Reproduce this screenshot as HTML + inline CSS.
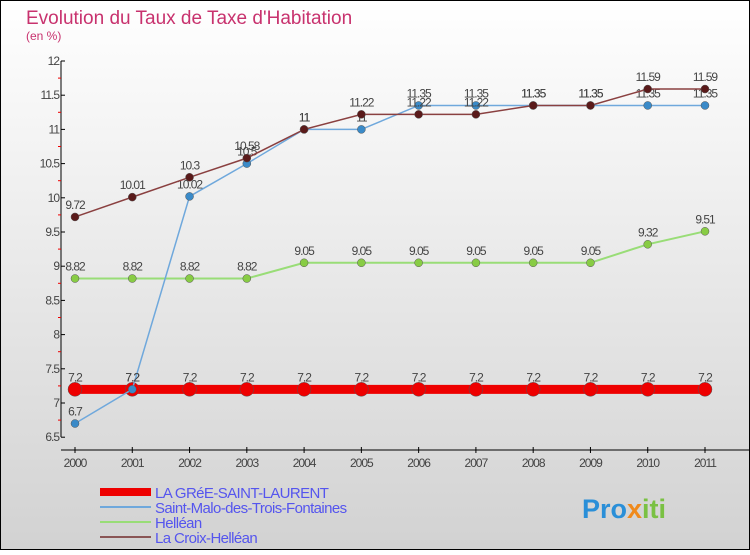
<!DOCTYPE html>
<html><head><meta charset="utf-8"><style>
body{margin:0}
#c{width:750px;height:550px;position:relative;font-family:"Liberation Sans",sans-serif}
</style></head><body>
<div id="c">
<svg id="s" width="750" height="550" xmlns="http://www.w3.org/2000/svg">
<defs><linearGradient id="bg" x1="0" y1="0" x2="0" y2="1"><stop offset="0" stop-color="#ffffff"/><stop offset="1" stop-color="#d2d2d2"/></linearGradient></defs>
<rect x="0.5" y="0.5" width="749" height="549" fill="url(#bg)" stroke="#000"/>
<text x="26" y="24" font-size="19" fill="#c8326e">Evolution du Taux de Taxe d'Habitation</text>
<text x="26" y="40" font-size="12" fill="#c8326e">(en %)</text>
<g id="axes"></g><g id="marks"></g><g id="legend"></g>
<text x="582" y="518" font-size="27" font-weight="bold" fill="#2a8fd8">Pro<tspan fill="#f08a1c">x</tspan><tspan fill="#7ac143">iti</tspan></text>
</svg></div>
<script>
const years=["2000","2001","2002","2003","2004","2005","2006","2007","2008","2009","2010","2011"];
const yTicks=[6.5,7,7.5,8,8.5,9,9.5,10,10.5,11,11.5,12];
const laGree=[7.2,7.2,7.2,7.2,7.2,7.2,7.2,7.2,7.2,7.2,7.2,7.2];
const saintMalo=[6.7,7.2,10.02,10.5,11,11,11.35,11.35,11.35,11.35,11.35,11.35];
const helleann=[8.82,8.82,8.82,8.82,9.05,9.05,9.05,9.05,9.05,9.05,9.32,9.51];
const croix=[9.72,10.01,10.3,10.58,11,11.22,11.22,11.22,11.35,11.35,11.59,11.59];
const NS="http://www.w3.org/2000/svg";
const X=i=>75+i*(630/11);
const Y=v=>61+(12-v)*68.4;
function el(t,a,p){const e=document.createElementNS(NS,t);for(const k in a)e.setAttribute(k,a[k]);p.appendChild(e);return e;}
const ax=document.getElementById('axes');
let e=el('line',{x1:61,y1:61,x2:61,y2:437,stroke:'#000'},ax);

e=el('line',{x1:61,y1:450,x2:750,y2:450,stroke:'#000'},ax);

yTicks.forEach((v,i)=>{
 el('line',{x1:61,y1:Y(v),x2:65,y2:Y(v),stroke:'#000'},ax);
 if(i<yTicks.length-1)el('line',{x1:58,y1:Y(v+0.25),x2:61,y2:Y(v+0.25),stroke:'#e00'},ax);
 const t=el('text',{x:59,y:Y(v)+4,'font-size':12,fill:'#444','text-anchor':'end','letter-spacing':'-1'},ax);
 t.textContent=String(v);
 
});
years.forEach((y,i)=>{
 el('line',{x1:X(i),y1:447,x2:X(i),y2:453,stroke:'#000'},ax);
 const t=el('text',{x:X(i),y:467,'font-size':12,fill:'#444','text-anchor':'middle','letter-spacing':'-1'},ax);
 t.textContent=y;
 
});
const mk=document.getElementById('marks');
function series(vals,color,fill,w,r,name,labels){
 const g=el('g',{},mk);
 
 const p=el('polyline',{points:vals.map((v,i)=>X(i)+','+Y(v)).join(' '),fill:'none',stroke:color,'stroke-width':w},g);
 
 vals.forEach((v,i)=>{
  const c=el('circle',{cx:X(i),cy:Y(v),r:r,fill:fill,stroke:'#555','stroke-width':0.5},g);
  
  if(labels){const t=el('text',{x:X(i),y:Y(v)-8,'font-size':12,fill:'#444','text-anchor':'middle','letter-spacing':'-1'},g);
  t.textContent=String(v);}
 });
}
series(laGree,'#ee0000','#ee0000',9,7,'la-gree-series',true);
series(helleann,'#99dd77','#88cc44',2,4,'helleann-series',true);
series(saintMalo,'#6fa8dc','#3a8ac8',1.5,4,'saint-malo-series',true);
series(croix,'#8a4040','#5a1a1a',1.5,4,'croix-series',true);
const lg=document.getElementById('legend');
const items=[["LA GRéE-SAINT-LAURENT","#ee0000",8],["Saint-Malo-des-Trois-Fontaines","#6fa8dc",2],["Helléan","#99dd77",2],["La Croix-Helléan","#8a5555",2]];
items.forEach((it,i)=>{
 const y=492+i*15;
 const g=el('g',{},lg);
 
 el('line',{x1:100,y1:y,x2:151,y2:y,stroke:it[1],'stroke-width':it[2]},g);
 const t=el('text',{x:155,y:y+6,'font-size':15,fill:'#5555ee','letter-spacing':'-0.6'},g);t.textContent=it[0];
});
</script></body></html>
